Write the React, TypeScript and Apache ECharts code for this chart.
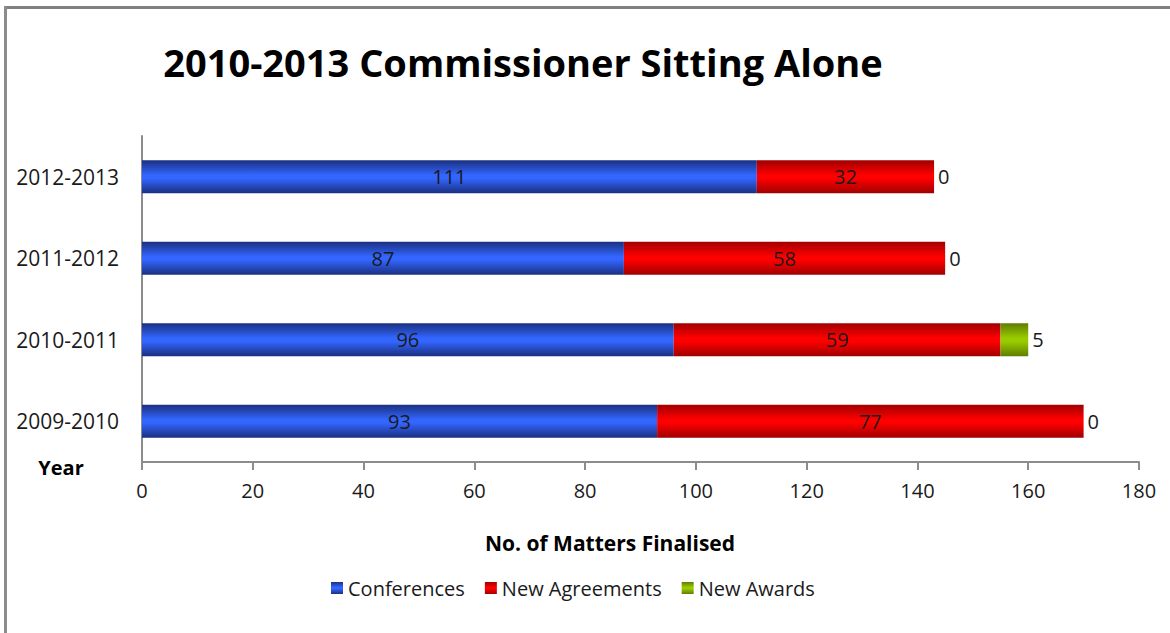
import React, { useEffect, useRef } from "react";
import * as echarts from "echarts";

const years = ["2009-2010", "2010-2011", "2011-2012", "2012-2013"];
const conferences = [93, 96, 87, 111];
const newAgreements = [77, 59, 58, 32];
const newAwards = [0, 5, 0, 0];
const seriesNames = ["Conferences", "New Agreements", "New Awards"];
const xTicks = { min: 0, max: 180, interval: 20 };

const FONT = "'Open Sans', Lato, sans-serif";

function grad(edge: string, mid: string) {
  return new echarts.graphic.LinearGradient(0, 0, 0, 1, [
    { offset: 0, color: edge },
    { offset: 0.45, color: mid },
    { offset: 0.55, color: mid },
    { offset: 1, color: edge },
  ]);
}

export default function App() {
  const ref = useRef<HTMLDivElement>(null);
  useEffect(() => {
    if (!ref.current) return;
    const chart = echarts.init(ref.current, undefined, { renderer: "svg" });
    const labelStyle = { fontFamily: FONT, fontSize: 20, color: "#1a1a1a" };
    chart.setOption({
      animation: false,
      backgroundColor: "#ffffff",
      textStyle: { fontFamily: FONT },
      grid: { left: 142, right: 31, top: 136, bottom: 171, containLabel: false },
      xAxis: {
        type: "value",
        min: xTicks.min,
        max: xTicks.max,
        interval: xTicks.interval,
        axisLine: { show: true, lineStyle: { color: "#8c8c8c", width: 2 } },
        axisTick: { show: true, length: 8, lineStyle: { color: "#8c8c8c", width: 2 } },
        axisLabel: { fontFamily: FONT, fontSize: 20, color: "#1a1a1a", margin: 18 },
        splitLine: { show: false },
      },
      yAxis: {
        type: "category",
        data: years,
        axisLine: { show: true, lineStyle: { color: "#8c8c8c", width: 2 } },
        axisTick: { show: false },
        axisLabel: { fontFamily: FONT, fontSize: 21, color: "#1a1a1a", margin: 23 },
      },
      legend: {
        data: seriesNames,
        left: 326,
        top: 573,
        itemWidth: 12,
        itemHeight: 12,
        itemGap: 20,
        icon: "rect",
        textStyle: { fontFamily: FONT, fontSize: 20, color: "#1a1a1a" },
      },
      series: [
        {
          name: seriesNames[0],
          type: "bar",
          stack: "total",
          data: conferences,
          barWidth: 33,
          itemStyle: { color: grad("#1a2f7f", "#3366ff") },
          label: { show: true, position: "inside", ...labelStyle },
        },
        {
          name: seriesNames[1],
          type: "bar",
          stack: "total",
          data: newAgreements,
          barWidth: 33,
          itemStyle: { color: grad("#a00000", "#ff0000") },
          label: { show: true, position: "inside", ...labelStyle },
        },
        {
          name: seriesNames[2],
          type: "bar",
          stack: "total",
          data: newAwards,
          barWidth: 33,
          itemStyle: { color: grad("#5f7d00", "#99cc00") },
          label: { show: true, position: "right", distance: 4, ...labelStyle },
        },
      ],
      graphic: [
        {
          type: "line",
          shape: { x1: 4, y1: 7.5, x2: 1170, y2: 7.5 },
          style: { stroke: "#808080", lineWidth: 3 },
        },
        {
          type: "line",
          shape: { x1: 5.5, y1: 6, x2: 5.5, y2: 633 },
          style: { stroke: "#8c8c8c", lineWidth: 3 },
        },
        {
          type: "text",
          x: 523,
          y: 62,
          style: {
            text: "2010-2013 Commissioner Sitting Alone",
            fontFamily: FONT,
            fontSize: 38,
            fontWeight: "bold",
            fill: "#000000",
            align: "center",
            verticalAlign: "middle",
            shadowColor: "rgba(0,0,0,0.35)",
            shadowBlur: 3,
            shadowOffsetX: 2,
            shadowOffsetY: 2,
          },
        },
        {
          type: "text",
          x: 610,
          y: 543,
          style: {
            text: "No. of Matters Finalised",
            fontFamily: FONT,
            fontSize: 21,
            fontWeight: "bold",
            fill: "#000000",
            align: "center",
            verticalAlign: "middle",
          },
        },
        {
          type: "text",
          x: 61,
          y: 467,
          style: {
            text: "Year",
            fontFamily: FONT,
            fontSize: 20,
            fontWeight: "bold",
            fill: "#000000",
            align: "center",
            verticalAlign: "middle",
          },
        },
      ],
    });
    return () => chart.dispose();
  }, []);
  return <div ref={ref} style={{ width: 1170, height: 633, position: "absolute", left: 0, top: 0 }} />;
}
